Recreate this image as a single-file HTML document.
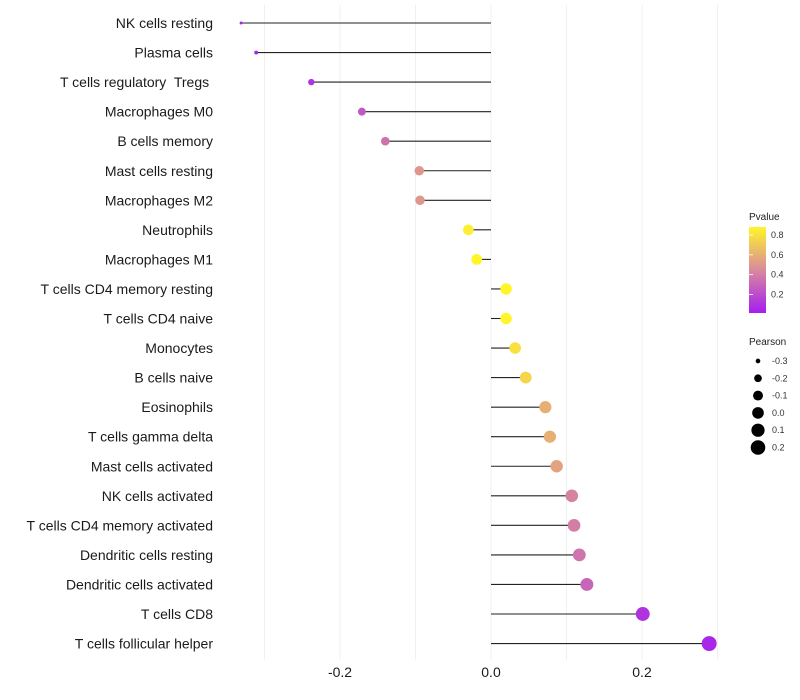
<!DOCTYPE html>
<html><head><meta charset="utf-8"><style>
body{margin:0;background:#fff;font-family:"Liberation Sans",sans-serif}
svg{display:block}
text{white-space:pre}
</style></head><body>
<svg id="chart" width="800" height="700">
<defs><linearGradient id="pg" x1="0" y1="1" x2="0" y2="0">
<stop offset="0" stop-color="#a51ef0"/><stop offset="0.5" stop-color="#d98a9c"/><stop offset="1" stop-color="#fff52a"/>
</linearGradient></defs>
<g id="grid"></g>
<g id="marks"></g>
<g id="ylabels"></g>
<g id="xlabels"></g>
<g>
<text x="749" y="220" font-size="10" fill="#222">Pvalue</text>
<rect x="749" y="227" width="17" height="86" fill="url(#pg)"/>
<g id="cbticks"></g>
</g>
<g id="sizeLegend">
<text x="749" y="345" font-size="10" fill="#222">Pearson</text>
</g>
</svg>
<script>
const categories=["NK cells resting","Plasma cells","T cells regulatory  Tregs ","Macrophages M0","B cells memory","Mast cells resting","Macrophages M2","Neutrophils","Macrophages M1","T cells CD4 memory resting","T cells CD4 naive","Monocytes","B cells naive","Eosinophils","T cells gamma delta","Mast cells activated","NK cells activated","T cells CD4 memory activated","Dendritic cells resting","Dendritic cells activated","T cells CD8","T cells follicular helper"];
const pearson=[-0.331,-0.311,-0.238,-0.171,-0.140,-0.095,-0.094,-0.030,-0.019,0.020,0.020,0.032,0.046,0.072,0.078,0.087,0.107,0.110,0.117,0.127,0.201,0.289];
const pvalue=[0.03,0.05,0.1,0.25,0.35,0.5,0.5,0.85,0.9,0.88,0.88,0.8,0.75,0.6,0.6,0.55,0.42,0.4,0.36,0.3,0.1,0.05];
const xTicks=[-0.2,0.0,0.2];
const xTickLabels=["-0.2","0.0","0.2"];
const gridVals=[-0.3,-0.2,-0.1,0,0.1,0.2,0.3];
const cbTicks=[0.2,0.4,0.6,0.8];
const sizeTicks=[-0.3,-0.2,-0.1,0.0,0.1,0.2];
const NS="http://www.w3.org/2000/svg";
const x=v=>491+v*755;
const y=i=>23+i*29.55;
const r=v=>Math.sqrt(Math.max(1,30.9+86.7*v));
function lerp(a,b,t){return a.map((c,i)=>Math.round(c+(b[i]-c)*t));}
function col(p){const lo=[165,30,240],mid=[217,138,156],hi=[255,245,42];const t=Math.min(1,Math.max(0,(p-0.014)/0.866));const c=t<0.5?lerp(lo,mid,t*2):lerp(mid,hi,(t-0.5)*2);return `rgb(${c})`;}
function mk(tag,at,parent){const e=document.createElementNS(NS,tag);for(const k in at)e.setAttribute(k,at[k]);parent.appendChild(e);return e;}
const grid=document.getElementById('grid'),marks=document.getElementById('marks'),yl=document.getElementById('ylabels'),xl=document.getElementById('xlabels');
gridVals.forEach(v=>{const l=mk('line',{x1:x(v),x2:x(v),y1:5,y2:660,stroke:'#f0f0f0','stroke-width':1},grid);

});
categories.forEach((c,i)=>{
const t=mk('text',{x:213,y:y(i)+5,'text-anchor':'end','font-size':14,fill:'#1a1a1a'},yl);t.textContent=c;


const l=mk('line',{x1:x(0),x2:x(pearson[i]),y1:y(i),y2:y(i),stroke:'#222','stroke-width':1.1},marks);


const d=mk('circle',{cx:x(pearson[i]),cy:y(i),r:r(pearson[i]),fill:col(pvalue[i])},marks);


});
xTicks.forEach((v,i)=>{const t=mk('text',{x:x(v),y:677,'text-anchor':'middle','font-size':14,fill:'#1a1a1a'},xl);t.textContent=xTickLabels[i];

});
const cb=document.getElementById('cbticks');
cbTicks.forEach(p=>{const yy=313-(p-0.014)/0.866*86;
const l=mk('line',{x1:749,x2:753,y1:yy,y2:yy,stroke:'#fff','stroke-width':0.8},cb);


const t=mk('text',{x:771,y:yy+3,'font-size':9,fill:'#333'},cb);t.textContent=p.toFixed(1);

});
const sl=document.getElementById('sizeLegend');
sizeTicks.forEach((v,i)=>{const yy=361+i*17.3;
const c=mk('circle',{cx:758,cy:yy,r:r(v)*1.05,fill:'#000'},sl);


const t=mk('text',{x:772,y:yy+3,'font-size':9,fill:'#333'},sl);t.textContent=v.toFixed(1);

});
</script>
</body></html>
